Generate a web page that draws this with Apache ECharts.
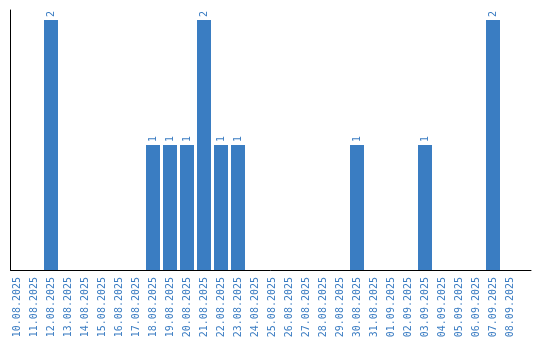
<!DOCTYPE html>
<html>
<head>
<meta charset="utf-8">
<script src="https://cdn.jsdelivr.net/npm/echarts@6/dist/echarts.min.js"></script>
<style>html,body{margin:0;padding:0;background:#fff;}#c{width:540px;height:340px;}</style>
</head>
<body>
<div id="c"></div>
<script>
const categories = ["10.08.2025","11.08.2025","12.08.2025","13.08.2025","14.08.2025","15.08.2025","16.08.2025","17.08.2025","18.08.2025","19.08.2025","20.08.2025","21.08.2025","22.08.2025","23.08.2025","24.08.2025","25.08.2025","26.08.2025","27.08.2025","28.08.2025","29.08.2025","30.08.2025","31.08.2025","01.09.2025","02.09.2025","03.09.2025","04.09.2025","05.09.2025","06.09.2025","07.09.2025","08.09.2025"];
const values = [0,0,2,0,0,0,0,0,1,1,1,2,1,1,0,0,0,0,0,0,1,0,0,0,1,0,0,0,2,0];
const barColor = "#3a7dc2";
const textColor = "#3a7cc2";
const font = 'DejaVu Sans Mono';
const chart = echarts.init(document.getElementById('c'));
chart.setOption({
  animation: false,
  grid: [
    {left: 8.5, width: 510, top: 20, bottom: 70, outerBoundsMode: 'none', containLabel: false},
    {left: 10.5, right: 9, top: 10, bottom: 70, outerBoundsMode: 'none', containLabel: false}
  ],
  xAxis: [
    {type: 'category', gridIndex: 0, data: categories,
     axisLine: {show: false}, axisTick: {show: false},
     axisLabel: {rotate: 90, interval: 0, margin: 7, color: textColor, fontSize: 10, fontFamily: font}},
    {type: 'value', gridIndex: 1, min: 0, max: 1,
     axisLine: {show: true, lineStyle: {color: '#000', width: 1}},
     axisTick: {show: false}, axisLabel: {show: false}, splitLine: {show: false}}
  ],
  yAxis: [
    {type: 'value', gridIndex: 0, min: 0, max: 2, show: false},
    {type: 'value', gridIndex: 1, min: 0, max: 1,
     axisLine: {show: true, lineStyle: {color: '#000', width: 1}},
     axisTick: {show: false}, axisLabel: {show: false}, splitLine: {show: false}}
  ],
  series: [{
    type: 'bar', xAxisIndex: 0, yAxisIndex: 0, data: values, barWidth: 14,
    itemStyle: {color: barColor},
    label: {show: true, position: 'top', rotate: 90, align: 'left', verticalAlign: 'middle', distance: 3,
      color: textColor, fontSize: 10, fontFamily: font,
      formatter: p => p.value ? String(p.value) : ''}
  }]
});
</script>
</body>
</html>
